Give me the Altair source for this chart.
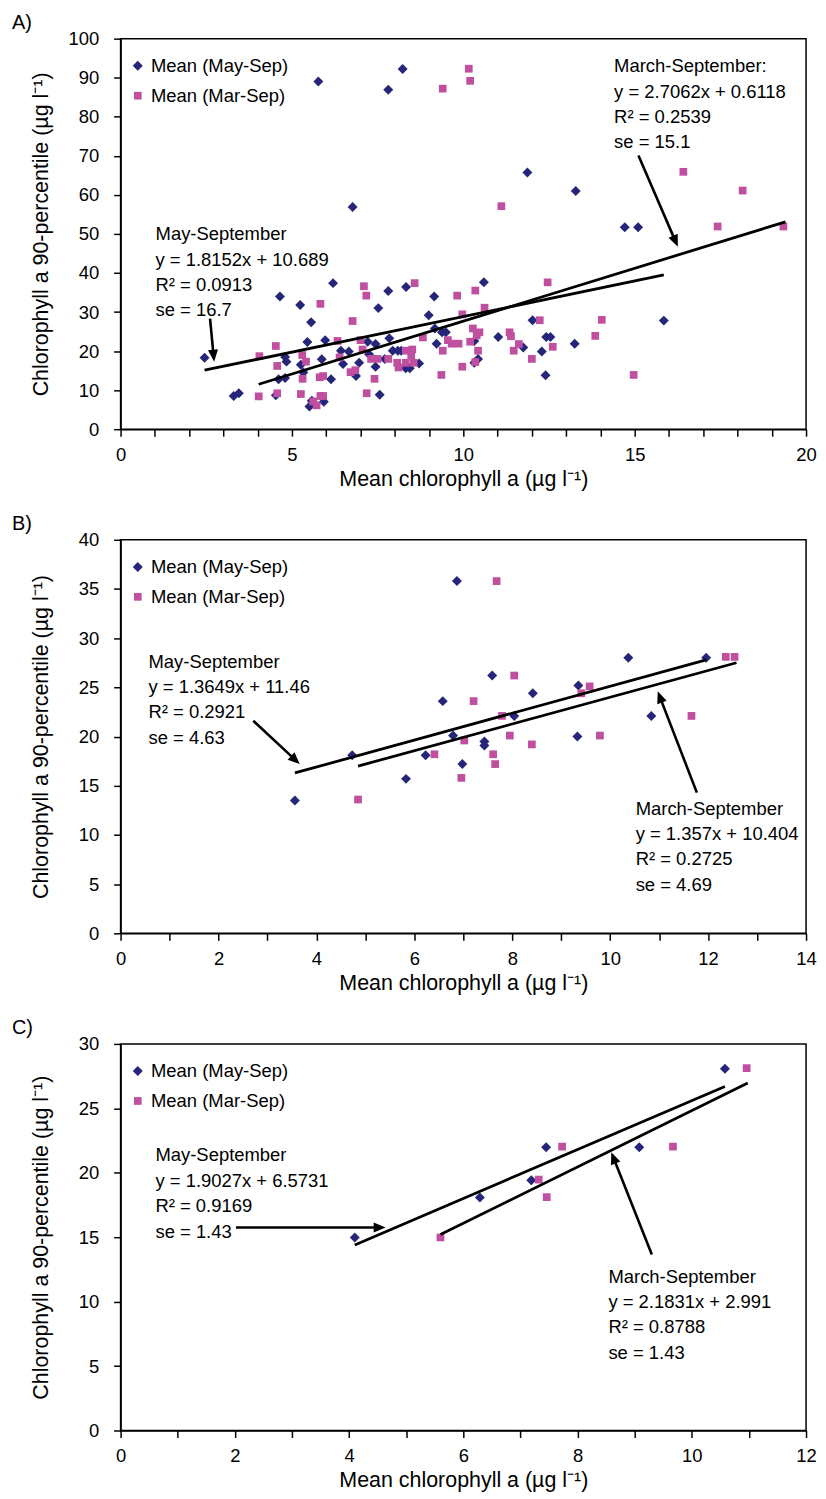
import math
import altair as alt
import pandas as pd

FONT = "Liberation Sans, Arial, Helvetica, sans-serif"
NAVY = "#25267a"
MAGENTA = "#c04fa0"
SER_MAY = "Mean (May-Sep)"
SER_MAR = "Mean (Mar-Sep)"
SERIES = [SER_MAY, SER_MAR]
XTITLE = "Mean chlorophyll a (µg l⁻¹)"
YTITLE = "Chlorophyll a 90-percentile (µg l⁻¹)"

# ---------------- Panel A ----------------
a_may_x = [2.45, 3.3, 3.45, 4.53, 4.61, 4.65, 4.8, 4.84, 4.8, 5.24,
           5.26, 5.33, 5.45, 5.51, 5.56, 5.58, 5.77, 5.87, 5.93, 5.97,
           6.14, 6.2, 6.43, 6.49, 6.66, 6.77, 6.87, 6.96, 7.21, 7.25,
           7.44, 7.44, 7.52, 7.56, 7.71, 7.81, 7.81, 7.84, 7.94, 8.09,
           8.19, 8.23, 8.33, 8.32, 8.44, 8.71, 8.99, 9.15, 9.17, 9.22,
           9.38, 9.49, 10.32, 10.32, 10.43, 10.6, 11.02, 11.75, 11.87, 12.02,
           12.29, 12.42, 12.54, 12.4, 13.25, 13.28, 14.71, 15.1, 15.85]
a_may_y = [18.3, 8.5, 9.2, 8.7, 12.8, 34.0, 18.5, 17.3, 13.1, 31.8,
           16.5, 14.5, 22.3, 5.8, 27.4, 7.3, 89.0, 17.9, 7.0, 22.8,
           12.8, 37.4, 20.1, 16.7, 19.9, 56.9, 13.6, 17.0, 22.4, 19.2,
           21.8, 16.0, 31.0, 8.8, 18.0, 86.9, 35.4, 23.3, 20.1, 20.1,
           20.1, 92.2, 36.4, 15.6, 15.6, 16.8, 29.2, 34.0, 25.8, 21.9,
           24.8, 24.8, 22.6, 17.0, 18.0, 37.6, 23.6, 20.9, 65.7, 27.9,
           19.9, 23.6, 23.6, 13.8, 21.9, 61.0, 51.7, 51.7, 27.8]
a_mar_x = [4.03, 4.05, 4.53, 4.57, 4.57, 5.26, 5.3, 5.31, 5.41, 5.62,
           5.72, 5.81, 5.83, 5.83, 5.91, 5.91, 6.33, 6.39, 6.71, 6.77,
           6.85, 7.0, 7.06, 7.1, 7.17, 7.18, 7.31, 7.41, 7.5, 7.81,
           8.07, 8.11, 8.32, 8.32, 8.48, 8.51, 8.55, 8.58, 8.82, 9.36,
           9.4, 9.4, 9.55, 9.66, 9.82, 9.86, 9.97, 9.97, 10.16, 10.2,
           10.2, 10.28, 10.35, 10.35, 10.39, 10.43, 10.47, 10.62, 11.11, 11.35,
           11.39, 11.47, 11.62, 12.0, 12.23, 12.46, 12.61, 13.85, 14.04, 14.97,
           16.42, 17.42, 18.15, 19.34]
a_mar_y = [8.4, 18.7, 21.3, 16.2, 9.2, 9.0, 19.0, 12.9, 17.3, 7.1,
           6.1, 13.3, 32.1, 8.5, 13.6, 8.5, 22.6, 18.4, 14.6, 27.7,
           15.1, 22.8, 20.4, 36.6, 34.2, 9.2, 18.0, 12.9, 18.0, 18.0,
           17.0, 15.8, 20.1, 17.0, 18.9, 20.4, 17.0, 37.4, 23.5, 13.9,
           87.2, 20.1, 22.8, 21.9, 34.2, 21.9, 29.4, 16.0, 92.3, 89.2,
           22.4, 25.8, 35.5, 17.2, 24.0, 20.1, 24.8, 31.1, 57.1, 24.8,
           23.8, 20.1, 21.8, 18.0, 27.9, 37.6, 21.1, 23.9, 28.0, 13.9,
           65.9, 51.9, 61.1, 51.9]
a_trend_may_x = [2.45, 15.85]
a_trend_may_y = [15.1, 39.5]
a_trend_mar_x = [4.03, 19.4]
a_trend_mar_y = [11.5, 53.1]
a_arrow_may = [(2.61, 28.3), (2.73, 17.3)]
a_arrow_mar = [(15.11, 70.1), (16.26, 46.7)]
a_note_may = "May-September\ny = 1.8152x + 10.689\nR² = 0.0913\nse = 16.7"
a_note_mar = "March-September:\ny = 2.7062x + 0.6118\nR² = 0.2539\nse = 15.1"
a_note_may_at = (1.02, 48.4)
a_note_mar_at = (14.4, 91.4)

# ---------------- Panel B ----------------
b_may_x = [3.56, 4.73, 5.83, 6.23, 6.58, 6.79, 6.87, 6.98, 7.43, 7.43,
           7.59, 8.04, 8.42, 9.33, 9.35, 10.37, 10.84, 11.96]
b_may_y = [13.5, 18.1, 15.7, 18.1, 23.6, 20.1, 35.8, 17.2, 19.5, 19.1,
           26.2, 22.1, 24.4, 20.0, 25.2, 28.0, 22.1, 28.0]
b_mar_x = [4.85, 6.41, 6.96, 7.02, 7.21, 7.61, 7.65, 7.68, 7.79, 7.95,
           8.04, 8.40, 9.41, 9.58, 9.79, 11.66, 12.36, 12.54]
b_mar_y = [13.6, 18.2, 15.8, 19.6, 23.6, 18.2, 17.2, 35.8, 22.1, 20.1,
           26.2, 19.2, 24.4, 25.1, 20.1, 22.1, 28.1, 28.1]
b_trend_may_x = [3.56, 11.96]
b_trend_may_y = [16.3, 27.8]
b_trend_mar_x = [4.85, 12.58]
b_trend_mar_y = [17.0, 27.5]
b_arrow_may = [(2.71, 21.6), (3.66, 17.2)]
b_arrow_mar = [(11.77, 14.3), (10.97, 24.6)]
b_note_may = "May-September\ny = 1.3649x + 11.46\nR² = 0.2921\nse = 4.63"
b_note_mar = "March-September\ny = 1.357x + 10.404\nR² = 0.2725\nse = 4.69"
b_note_may_at = (0.57, 27.0)
b_note_mar_at = (10.52, 12.06)

# ---------------- Panel C ----------------
c_may_x = [4.10, 6.29, 7.19, 7.45, 9.08, 10.58]
c_may_y = [14.98, 18.08, 19.42, 21.98, 21.98, 28.07]
c_mar_x = [5.60, 7.32, 7.46, 7.73, 9.67, 10.96]
c_mar_y = [14.98, 19.47, 18.11, 22.03, 22.03, 28.12]
c_trend_may_x = [4.10, 10.58]
c_trend_may_y = [14.4, 26.7]
c_trend_mar_x = [5.60, 10.98]
c_trend_mar_y = [15.2, 26.97]
c_arrow_may = [(2.02, 15.75), (4.64, 15.75)]
c_arrow_mar = [(9.30, 13.65), (8.59, 21.59)]
c_note_may = "May-September\ny = 1.9027x + 6.5731\nR² = 0.9169\nse = 1.43"
c_note_mar = "March-September\ny = 2.1831x + 2.991\nR² = 0.8788\nse = 1.43"
c_note_may_at = (0.61, 20.88)
c_note_mar_at = (8.54, 11.48)

PLOT_W = 688
HEAD = "M0,0L0.42,1L-0.42,1Z"
HEAD_LEN = 12.0


def make_panel(tag, mx, my, qx, qy, tmay, tmar, arrows, notes, xmax, xstep,
               ymax, ystep, h):
    xs = alt.Scale(domain=[0, xmax], nice=False, zero=False)
    ys = alt.Scale(domain=[0, ymax], nice=False, zero=False)
    xaxis = alt.Axis(title=XTITLE, values=list(range(0, xmax + 1)),
                     labelExpr=f"datum.value % {xstep} === 0 ? datum.label : ''",
                     tickSize=7, labelPadding=9, titlePadding=5,
                     labelFlush=False, labelOverlap=False)
    yaxis = alt.Axis(title=YTITLE, values=list(range(0, ymax + 1, ystep)),
                     tickSize=7, labelPadding=15, titleX=-68,
                     labelOverlap=False)

    def X():
        return alt.X("x:Q", scale=xs, axis=xaxis)

    def Y():
        return alt.Y("y:Q", scale=ys, axis=yaxis)

    leg = alt.Legend(title=None, orient="none", legendX=8, legendY=18,
                     labelFont=FONT, labelFontSize=18.5, labelColor="black",
                     symbolSize=70, symbolStrokeWidth=0, rowPadding=11,
                     labelOffset=4, padding=0)

    pts = pd.DataFrame({"x": mx + qx, "y": my + qy,
                        "s": [SER_MAY] * len(mx) + [SER_MAR] * len(qx)})
    l_pts = alt.Chart(pts).mark_point(filled=True, opacity=1, strokeWidth=0).encode(
        x=X(), y=Y(),
        color=alt.Color("s:N", scale=alt.Scale(domain=SERIES, range=[NAVY, MAGENTA]), legend=leg),
        shape=alt.Shape("s:N", scale=alt.Scale(domain=SERIES, range=["diamond", "square"]), legend=leg),
        size=alt.Size("s:N", scale=alt.Scale(domain=SERIES, range=[100, 60]), legend=None),
    )

    tr = pd.DataFrame({"x": tmay[0] + tmar[0], "y": tmay[1] + tmar[1],
                       "g": ["may", "may", "mar", "mar"]})
    l_tr = alt.Chart(tr).mark_line(color="black", strokeWidth=2.8).encode(
        x=X(), y=Y(), detail="g:N")

    kx = PLOT_W / xmax
    ky = h / ymax
    shaft_rows, head_rows = [], []
    for i, ((x0, y0), (x1, y1)) in enumerate(arrows):
        dxp = (x1 - x0) * kx
        dyp = -(y1 - y0) * ky
        ln = math.hypot(dxp, dyp)
        ux, uy = dxp / ln, dyp / ln
        ang = math.degrees(math.atan2(dxp, -dyp)) % 360
        back = HEAD_LEN * 0.7
        sx = x1 - back * ux / kx
        sy = y1 + back * uy / ky
        shaft_rows += [{"x": x0, "y": y0, "g": i, "o": 0},
                       {"x": sx, "y": sy, "g": i, "o": 1}]
        head_rows.append({"x": x1, "y": y1, "ang": ang})
    l_sh = alt.Chart(pd.DataFrame(shaft_rows)).mark_line(
        color="black", strokeWidth=2.6).encode(
        x=X(), y=Y(), detail="g:N", order="o:Q")
    l_hd = alt.Chart(pd.DataFrame(head_rows)).mark_point(
        shape=HEAD, filled=True, color="black", opacity=1, strokeWidth=0,
        size=(HEAD_LEN * 2) ** 2).encode(
        x=X(), y=Y(), angle=alt.Angle("ang:Q", scale=None))

    nt = pd.DataFrame({"x": [notes[0][1][0], notes[1][1][0]],
                       "y": [notes[0][1][1], notes[1][1][1]],
                       "t": [notes[0][0], notes[1][0]]})
    l_nt = alt.Chart(nt).mark_text(
        align="left", baseline="alphabetic", lineBreak="\n", lineHeight=25.5,
        fontSize=18.5, font=FONT, color="black").encode(
        x=X(), y=Y(), text="t:N")

    # panel letter, placed in the margin above the plot's top-left corner
    l_tag = alt.Chart(pd.DataFrame({"t": [tag]})).mark_text(
        align="left", baseline="alphabetic", fontSize=20, font=FONT,
        color="black").encode(text="t:N", x=alt.value(-109), y=alt.value(-10))

    return alt.layer(l_pts, l_tr, l_sh, l_hd, l_nt, l_tag).properties(
        width=PLOT_W, height=h)


pA = make_panel("A)", a_may_x, a_may_y, a_mar_x, a_mar_y,
                (a_trend_may_x, a_trend_may_y), (a_trend_mar_x, a_trend_mar_y),
                [a_arrow_may, a_arrow_mar],
                [(a_note_may, a_note_may_at), (a_note_mar, a_note_mar_at)],
                20, 5, 100, 10, 392)
pB = make_panel("B)", b_may_x, b_may_y, b_mar_x, b_mar_y,
                (b_trend_may_x, b_trend_may_y), (b_trend_mar_x, b_trend_mar_y),
                [b_arrow_may, b_arrow_mar],
                [(b_note_may, b_note_may_at), (b_note_mar, b_note_mar_at)],
                14, 2, 40, 5, 395)
pC = make_panel("C)", c_may_x, c_may_y, c_mar_x, c_mar_y,
                (c_trend_may_x, c_trend_may_y), (c_trend_mar_x, c_trend_mar_y),
                [c_arrow_may, c_arrow_mar],
                [(c_note_may, c_note_may_at), (c_note_mar, c_note_mar_at)],
                12, 2, 30, 5, 388)

chart = alt.vconcat(pA, pB, pC, spacing=111, bounds="flush").resolve_scale(
    color="independent", shape="independent", size="independent"
).properties(
    padding={"left": 3, "top": 1, "right": 0, "bottom": 0}
).configure(font=FONT).configure_axis(
    labelFont=FONT, labelFontSize=18.5, labelColor="black",
    titleFont=FONT, titleFontSize=21.5, titleFontWeight="normal", titleColor="black",
    domainColor="black", domainWidth=1.5, tickColor="black", tickWidth=1.5,
    grid=False
).configure_view(stroke="black", strokeWidth=1.5)

chart.save("out.html", embed_options={"renderer": "svg", "actions": False})
